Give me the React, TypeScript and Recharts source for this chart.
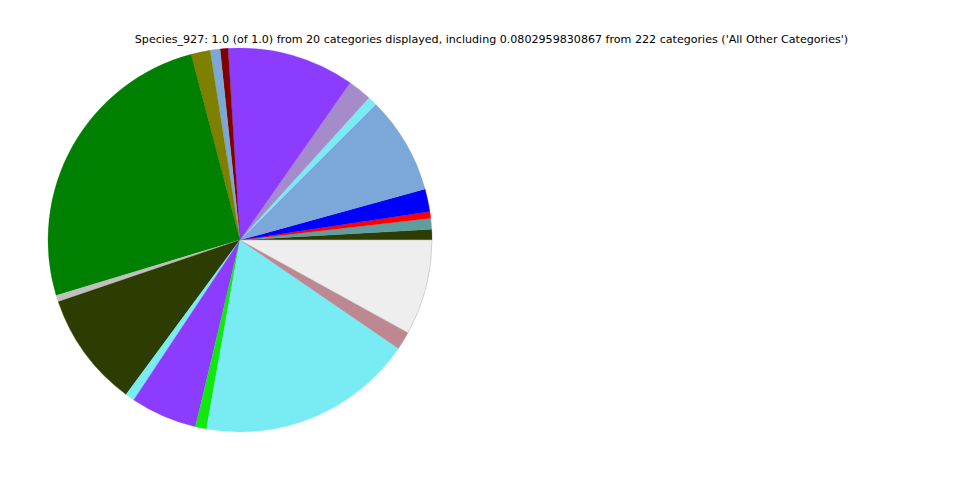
import { PieChart, Pie, Cell } from 'recharts';

const categories = [
  'Cat_01', 'Cat_02', 'Cat_03', 'Cat_04', 'Cat_05',
  'Cat_06', 'Cat_07', 'Cat_08', 'Cat_09', 'Cat_10',
  'Cat_11', 'Cat_12', 'Cat_13', 'Cat_14', 'Cat_15',
  'Cat_16', 'Cat_17', 'Cat_18', 'Cat_19', 'All Other Categories',
];

const values = [
  0.0089, 0.0092, 0.0056, 0.0192, 0.0822,
  0.0078, 0.0200, 0.1072, 0.0067, 0.0083,
  0.0161, 0.2558, 0.0056, 0.0967, 0.0078,
  0.0561, 0.0094, 0.1825, 0.0153, 0.0803,
];

const colors = [
  '#2d3c00', '#5f9ea0', '#ff0000', '#0000ff', '#7ba8d9',
  '#79ebf3', '#a58bc9', '#8c3cff', '#800000', '#7ba8d9',
  '#808000', '#008000', '#c0c0c0', '#2d3c00', '#79ebf3',
  '#8c3cff', '#10e810', '#79ebf3', '#bd8891', '#eeeeee',
];

const title =
  "Species_927: 1.0 (of 1.0) from 20 categories displayed, including 0.0802959830867 from 222 categories ('All Other Categories')";

const data = categories.map((name, i) => ({ name, value: values[i] }));

export default function App() {
  return (
    <div style={{ position: 'absolute', left: 0, top: 0, width: 960, height: 480, background: '#fff' }}>
      <div
        style={{
          position: 'absolute',
          top: 33,
          left: 0,
          width: 983,
          textAlign: 'center',
          fontFamily: 'DejaVu Sans',
          fontSize: 11.1,
          color: '#000',
        }}
      >
        {title}
      </div>
      <PieChart width={960} height={480} margin={{ top: 0, right: 0, bottom: 0, left: 0 }}>
        <Pie
          data={data}
          dataKey="value"
          nameKey="name"
          cx={240}
          cy={240}
          outerRadius={192}
          startAngle={0}
          endAngle={360}
          isAnimationActive={false}
        >
          {data.map((d, i) => (
            <Cell
              key={d.name}
              fill={colors[i]}
              stroke={i === data.length - 1 ? '#bbbbbb' : colors[i]}
              strokeWidth={i === data.length - 1 ? 0.6 : 0.3}
            />
          ))}
        </Pie>
      </PieChart>
    </div>
  );
}
